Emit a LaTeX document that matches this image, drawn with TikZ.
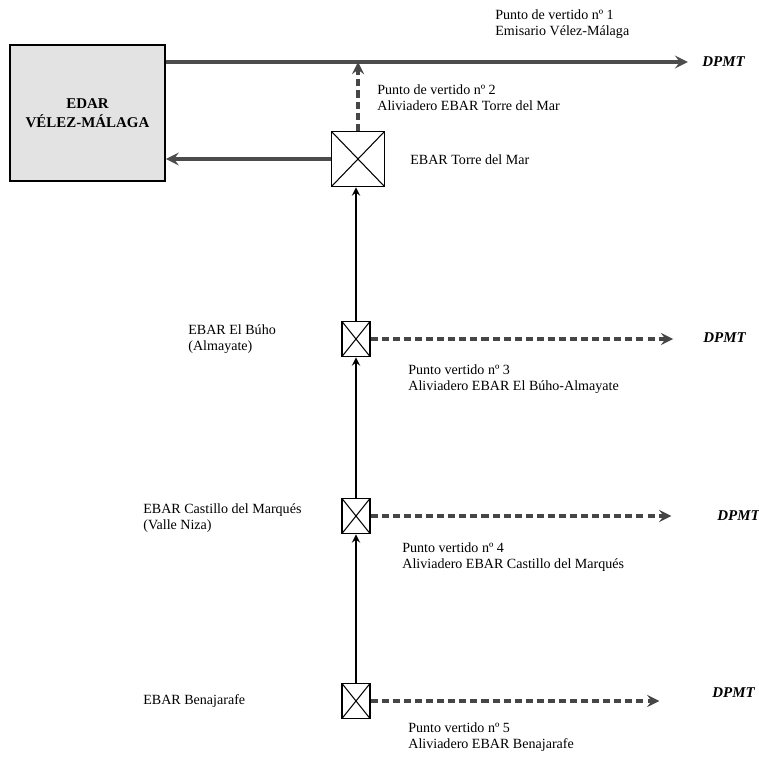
\documentclass[tikz,border=0pt]{standalone}
\usepackage{fontspec}
\setmainfont{Liberation Serif}
\usetikzlibrary{positioning, arrows.meta, calc}

\begin{document}
\begin{tikzpicture}[x=0.02cm, y=-0.02cm,
        edarbox/.style={rectangle, draw=black, line width=0.9pt, fill=gray!22, minimum width=3.1cm, minimum height=2.72cm, align=center, font=\fontsize{8.5}{11}\selectfont\bfseries},
        station/.style={rectangle, draw=black, line width=0.9pt, fill=white, minimum width=0.56cm, minimum height=0.7cm,
            path picture={\draw[line width=0.6pt] (path picture bounding box.north west) -- (path picture bounding box.south east)
                (path picture bounding box.south west) -- (path picture bounding box.north east);}},
        bigstation/.style={station, minimum width=1.06cm, minimum height=1.1cm},
        lbl/.style={align=left, inner sep=0pt, font=\fontsize{8}{9.5}\selectfont},
        sink/.style={inner sep=0pt, font=\fontsize{8.5}{10}\selectfont\bfseries\itshape},
        flow/.style={->, >=stealth, line width=2.2pt, draw=gray!60!black},
        pipe/.style={->, >=stealth, line width=1.1pt},
        overflow/.style={->, >=stealth, line width=2pt, draw=gray!55!black, dash pattern=on 4pt off 2.3pt}
    ]
        \useasboundingbox (0,0) rectangle (759,757);

        % Plant and pumping stations
        \node[edarbox] (edar) at (87.5,113) {EDAR\\VÉLEZ-MÁLAGA};
        \node[bigstation] (torre) at (358,159) {};
        \node[station] (buho) at (356,339) {};
        \node[station] (castillo) at (356,516) {};
        \node[station] (bena) at (356,701) {};

        % Station names
        \node[lbl, anchor=west] (ntorre) at (410,160) {EBAR Torre del Mar};
        \node[lbl, anchor=west] (nbuho) at (188,339) {EBAR El Búho\\(Almayate)};
        \node[lbl, anchor=west] (ncastillo) at (143,518) {EBAR Castillo del Marqués\\(Valle Niza)};
        \node[lbl, anchor=west] (nbena) at (143,701) {EBAR Benajarafe};

        % Outlets
        \node[sink, anchor=west] (d1) at (702,62) {DPMT};
        \node[sink, anchor=west] (d3) at (703,338) {DPMT};
        \node[sink, anchor=west] (d4) at (717,516) {DPMT};
        \node[sink, anchor=west] (d5) at (712,693) {DPMT};
        \coordinate (j2) at (torre.north |- d1.west);

        % Discharge points
        \node[lbl, anchor=north west] (p1) at (495,9) {Punto de vertido nº 1\\Emisario Vélez-Málaga};
        \node[lbl, anchor=north west] (p2) at (377,84) {Punto de vertido nº 2\\Aliviadero EBAR Torre del Mar};
        \node[lbl, anchor=north west] (p3) at (408,364) {Punto vertido nº 3\\Aliviadero EBAR El Búho-Almayate};
        \node[lbl, anchor=north west] (p4) at (402,542) {Punto vertido nº 4\\Aliviadero EBAR Castillo del Marqués};
        \node[lbl, anchor=north west] (p5) at (408,722) {Punto vertido nº 5\\Aliviadero EBAR Benajarafe};

        % Main flows
        \draw[flow] (edar.east |- d1.west) -- (d1.west) [shorten >=8pt];
        \draw[flow] (torre.west) -- (torre.west -| edar.east);
        \draw[overflow] (torre.north) -- (j2);

        % Collector
        \draw[pipe] (bena.north) -- (castillo.south);
        \draw[pipe] (castillo.north) -- (buho.south);
        \draw[pipe] (buho.north) -- (buho.north |- torre.south);

        % Overflows
        \draw[overflow, shorten >=17pt] (buho.east) -- (buho.east -| d3.west);
        \draw[overflow, shorten >=26pt] (castillo.east) -- (castillo.east -| d4.west);
        \draw[overflow, shorten >=30pt] (bena.east) -- (bena.east -| d5.west);
    \end{tikzpicture}
\end{document}
